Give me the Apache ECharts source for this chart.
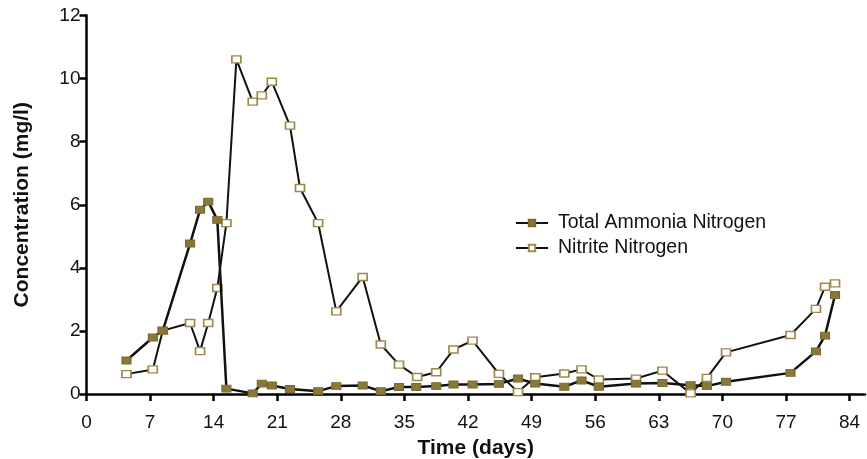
<!DOCTYPE html>
<html><head><meta charset="utf-8">
<script src="https://cdn.jsdelivr.net/npm/echarts@6/dist/echarts.min.js"></script>
<style>html,body{margin:0;padding:0;background:#fff}#c{width:867px;height:459px}</style>
</head><body><div id="c"></div>
<script>
const ammoniaDays = [4.4, 7.3, 8.4, 11.4, 12.5, 13.4, 14.4, 15.4, 18.3, 19.3, 20.4, 22.4, 25.5, 27.5, 30.4, 32.4, 34.4, 36.3, 38.5, 40.4, 42.5, 45.4, 47.5, 49.4, 52.6, 54.5, 56.4, 60.5, 63.4, 66.5, 68.3, 70.4, 77.5, 80.3, 81.3, 82.4];
const ammoniaVals = [1.06, 1.79, 2.01, 4.77, 5.84, 6.10, 5.52, 0.17, 0.02, 0.33, 0.27, 0.16, 0.09, 0.25, 0.27, 0.09, 0.22, 0.22, 0.25, 0.30, 0.30, 0.32, 0.49, 0.33, 0.23, 0.43, 0.23, 0.33, 0.35, 0.28, 0.25, 0.39, 0.67, 1.35, 1.85, 3.14];
const nitriteDays = [4.4, 7.3, 8.4, 11.4, 12.5, 13.4, 14.4, 15.4, 16.5, 18.3, 19.3, 20.4, 22.4, 23.5, 25.5, 27.5, 30.4, 32.4, 34.4, 36.4, 38.5, 40.4, 42.5, 45.4, 47.5, 49.4, 52.6, 54.5, 56.4, 60.5, 63.4, 66.5, 68.3, 70.4, 77.5, 80.3, 81.3, 82.4];
const nitriteVals = [0.63, 0.78, 2.01, 2.25, 1.36, 2.25, 3.36, 5.42, 10.61, 9.27, 9.47, 9.90, 8.51, 6.53, 5.42, 2.62, 3.71, 1.57, 0.93, 0.54, 0.69, 1.41, 1.69, 0.64, 0.06, 0.53, 0.65, 0.78, 0.46, 0.49, 0.74, 0.02, 0.51, 1.32, 1.87, 2.70, 3.40, 3.51];
const xTicks = [0, 7, 14, 21, 28, 35, 42, 49, 56, 63, 70, 77, 84];
const yTicks = [0, 2, 4, 6, 8, 10, 12];
const seriesNames = ['Total Ammonia Nitrogen', 'Nitrite Nitrogen'];

const zip = (a, b) => a.map((d, i) => [d, b[i]]);
const font = 'Liberation Sans, Arial, sans-serif';
const chart = echarts.init(document.getElementById('c'), null, {renderer: 'canvas'});
chart.setOption({
  animation: false,
  backgroundColor: '#fff',
  grid: {left: 86.5, right: 2, top: 15.5, bottom: 65, containLabel: false, outerBoundsMode: 'none'},
  legend: {
    orient: 'vertical', left: 510, top: 208, itemGap: 5, itemWidth: 32, itemHeight: 8,
    data: seriesNames,
    textStyle: {fontFamily: font, fontSize: 19.5, color: '#111', padding: [0, 0, 0, 5]}
  },
  xAxis: {
    type: 'value', min: 0, max: 85.7,
    name: 'Time (days)', nameLocation: 'middle', nameGap: 44,
    nameTextStyle: {fontFamily: font, fontSize: 21, fontWeight: 'bold', color: '#111'},
    axisLine: {onZero: false, lineStyle: {color: '#000', width: 2.5}},
    axisTick: {customValues: xTicks, length: 7, lineStyle: {color: '#000', width: 2.5}},
    axisLabel: {customValues: xTicks, fontFamily: font, fontSize: 19, color: '#111', margin: 19},
    splitLine: {show: false}
  },
  yAxis: {
    type: 'value', min: 0, max: 12, interval: 2,
    name: 'Concentration (mg/l)', nameLocation: 'middle', nameGap: 54,
    nameTextStyle: {fontFamily: font, fontSize: 21, fontWeight: 'bold', color: '#111'},
    axisLine: {show: true, onZero: false, lineStyle: {color: '#000', width: 2.5}},
    axisTick: {show: true, length: 7, lineStyle: {color: '#000', width: 2.5}},
    axisLabel: {fontFamily: font, fontSize: 19, color: '#111', margin: 6},
    splitLine: {show: false}
  },
  series: [
    {
      name: seriesNames[1], type: 'line', z: 2,
      data: zip(nitriteDays, nitriteVals),
      symbol: 'rect', symbolSize: [9, 7],
      lineStyle: {color: '#111', width: 2},
      itemStyle: {color: '#fff', borderColor: '#9c8a4c', borderWidth: 1.5}
    },
    {
      name: seriesNames[0], type: 'line', z: 3,
      data: zip(ammoniaDays, ammoniaVals),
      symbol: 'rect', symbolSize: [9, 7],
      lineStyle: {color: '#111', width: 2.5},
      itemStyle: {color: '#8a7838', borderColor: '#7a6a30', borderWidth: 1}
    }
  ]
});
</script></body></html>
